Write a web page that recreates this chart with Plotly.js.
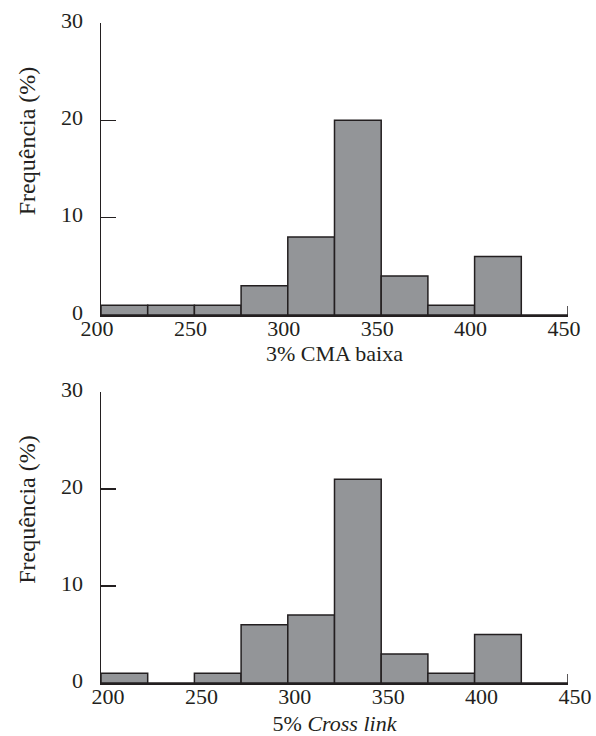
<!DOCTYPE html>
<html>
<head>
<meta charset="utf-8">
<script src="https://cdn.plot.ly/plotly-3.0.1.min.js"></script>
<style>
  html, body { margin: 0; padding: 0; background: #fff; }
  #chart { width: 596px; height: 736px; }
</style>
</head>
<body>
<div id="chart"></div>
<script>
// Histogram bins (left edge of each 25-unit class)
const binStarts = [200, 225, 250, 275, 300, 325, 350, 375, 400, 425];
const binWidth = 25;

// Frequency (%) per class
const freqCMA = [1, 1, 1, 3, 8, 20, 4, 1, 6, 0];
const freqCrossLink = [1, 0, 1, 6, 7, 21, 3, 1, 5, 0];

// Axis ticks
const xTicks = [200, 250, 300, 350, 400, 450];
const yTicks = [0, 10, 20, 30];

// Axis captions
const titleTop = '3% CMA baixa';
const titleBottom = '5% <i>Cross link</i>';
const yTitle = 'Frequência (%)';

const ink = '#231f20';
const barFill = '#939598';
const serif = "'Liberation Serif', 'Times New Roman', serif";

function histTrace(values, xa, ya) {
  return {
    type: 'bar',
    x: binStarts,
    y: values,
    width: binWidth,
    offset: 0,
    xaxis: xa,
    yaxis: ya,
    marker: { color: barFill, line: { color: ink, width: 1.5 } },
    hoverinfo: 'x+y',
    showlegend: false
  };
}

function xAxis(domainAnchor, caption, shift, standoff) {
  return {
    anchor: domainAnchor,
    range: [200, 450],
    domain: [0, 1],
    tickvals: xTicks,
    ticktext: xTicks.map(String),
    ticks: '',
    showgrid: false,
    zeroline: false,
    showline: true,
    linecolor: ink,
    linewidth: 2,
    ticklabelshift: shift,
    ticklabelstandoff: -7,
    tickfont: { family: serif, size: 22, color: ink },
    title: { text: caption, font: { family: serif, size: 22, color: ink }, standoff: standoff },
    fixedrange: true
  };
}

function yAxis(domainAnchor, dom) {
  return {
    anchor: domainAnchor,
    domain: dom,
    range: [0, 30],
    tickvals: yTicks,
    ticktext: yTicks.map(String),
    ticks: 'inside',
    ticklen: 15,
    tickwidth: 1.5,
    tickcolor: ink,
    showgrid: false,
    zeroline: false,
    showline: true,
    linecolor: ink,
    linewidth: 1.5,
    ticklabelstandoff: 12,
    ticklabelshift: -3,
    tickfont: { family: serif, size: 22, color: ink },
    fixedrange: true
  };
}

const data = [
  histTrace(freqCMA, 'x', 'y'),
  histTrace(freqCrossLink, 'x2', 'y2')
];

// Small upward tick closing the x axis at its right end
function endTick(xa, ya) {
  return {
    type: 'line', xref: xa, yref: ya,
    x0: 450, x1: 450,
    ysizemode: 'pixel', yanchor: 0, y0: 0, y1: 9,
    line: { color: ink, width: 1.5 }
  };
}

function yCaption(ya) {
  return {
    text: yTitle, textangle: -90,
    xref: 'paper', x: -74 / 467, xanchor: 'center',
    yref: ya + ' domain', y: 0.595, yanchor: 'middle',
    showarrow: false,
    font: { family: serif, size: 24, color: ink }
  };
}

const layout = {
  width: 596,
  height: 736,
  margin: { l: 101, r: 28, t: 23, b: 53 },
  paper_bgcolor: '#ffffff',
  plot_bgcolor: '#ffffff',
  bargap: 0,
  xaxis: xAxis('y', titleTop, -4, 4),
  yaxis: yAxis('x', [0.5576, 1]),
  xaxis2: xAxis('y2', titleBottom, 7, 7),
  yaxis2: yAxis('x2', [0, 0.4409]),
  shapes: [endTick('x', 'y'), endTick('x2', 'y2')],
  annotations: [yCaption('y'), yCaption('y2')]
};

Plotly.newPlot('chart', data, layout, { displayModeBar: false, staticPlot: true });
</script>
</body>
</html>
